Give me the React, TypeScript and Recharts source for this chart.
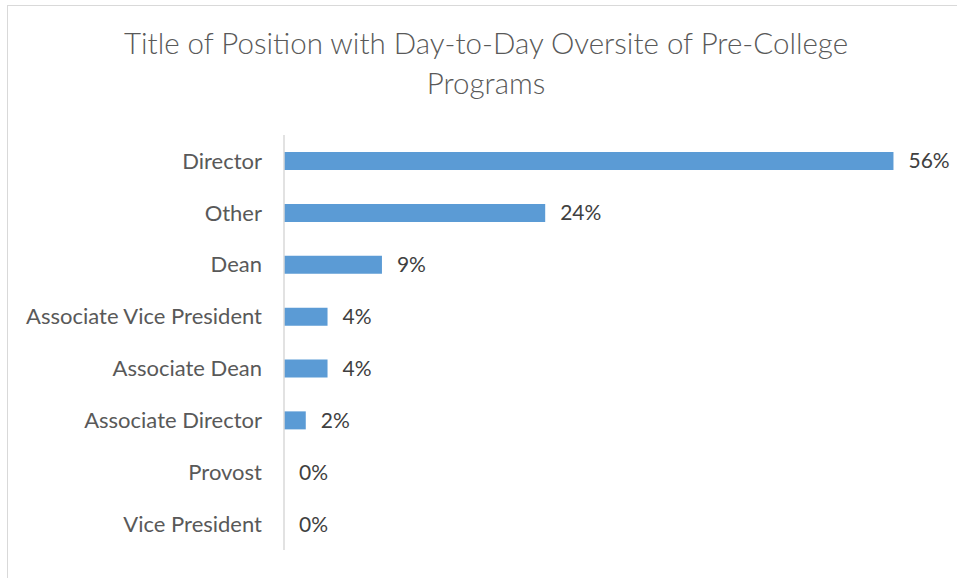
import { BarChart, Bar, XAxis, YAxis, LabelList } from "recharts";

const positions = [
  "Director",
  "Other",
  "Dean",
  "Associate Vice President",
  "Associate Dean",
  "Associate Director",
  "Provost",
  "Vice President",
];
const shares = [0.56, 0.24, 0.09, 0.04, 0.04, 0.02, 0, 0];

const rows = positions.map((title, i) => ({ title, share: shares[i] }));

const FONT = "Lato, 'Open Sans', sans-serif";

export default function App() {
  return (
    <div
      style={{
        position: "fixed",
        left: 0,
        top: 0,
        width: 957,
        height: 578,
        background: "#fff",
        fontFamily: FONT,
        overflow: "hidden",
      }}
    >
      {/* chart frame: only top and left edges fall inside the picture */}
      <div
        style={{
          position: "absolute",
          left: 7,
          top: 5,
          width: 980,
          height: 600,
          border: "1.5px solid #d9d9d9",
        }}
      />
      <div
        style={{
          position: "absolute",
          left: 0,
          top: 23,
          width: 972,
          textAlign: "center",
          fontSize: 29.5,
          fontWeight: 300,
          lineHeight: "40px",
          color: "#595959",
        }}
      >
        Title of Position with Day-to-Day Oversite of Pre-College
        <br />
        Programs
      </div>
      <div style={{ position: "absolute", left: 0, top: 0 }}>
        <BarChart
          width={957}
          height={578}
          data={rows}
          layout="vertical"
          margin={{ top: 135, right: 20, bottom: 28, left: 0 }}
          barSize={18}
        >
          <XAxis type="number" domain={[0, 0.6]} hide />
          <YAxis
            type="category"
            dataKey="title"
            width={284}
            tickSize={0}
            tickMargin={22}
            tickLine={false}
            axisLine={{ stroke: "#d9d9d9", strokeWidth: 1.5 }}
            tick={{ fontSize: 22, fill: "#595959", fontFamily: FONT }}
            interval={0}
          />
          <Bar
            dataKey="share"
            fill="#5b9bd5"
            minPointSize={0.001}
            isAnimationActive={false}
          >
            <LabelList
              dataKey="share"
              position="right"
              offset={15}
              formatter={(v: any) => `${Math.round(Number(v) * 100)}%`}
              style={{ fontSize: 21, fill: "#404040", fontFamily: FONT }}
            />
          </Bar>
        </BarChart>
      </div>
    </div>
  );
}
